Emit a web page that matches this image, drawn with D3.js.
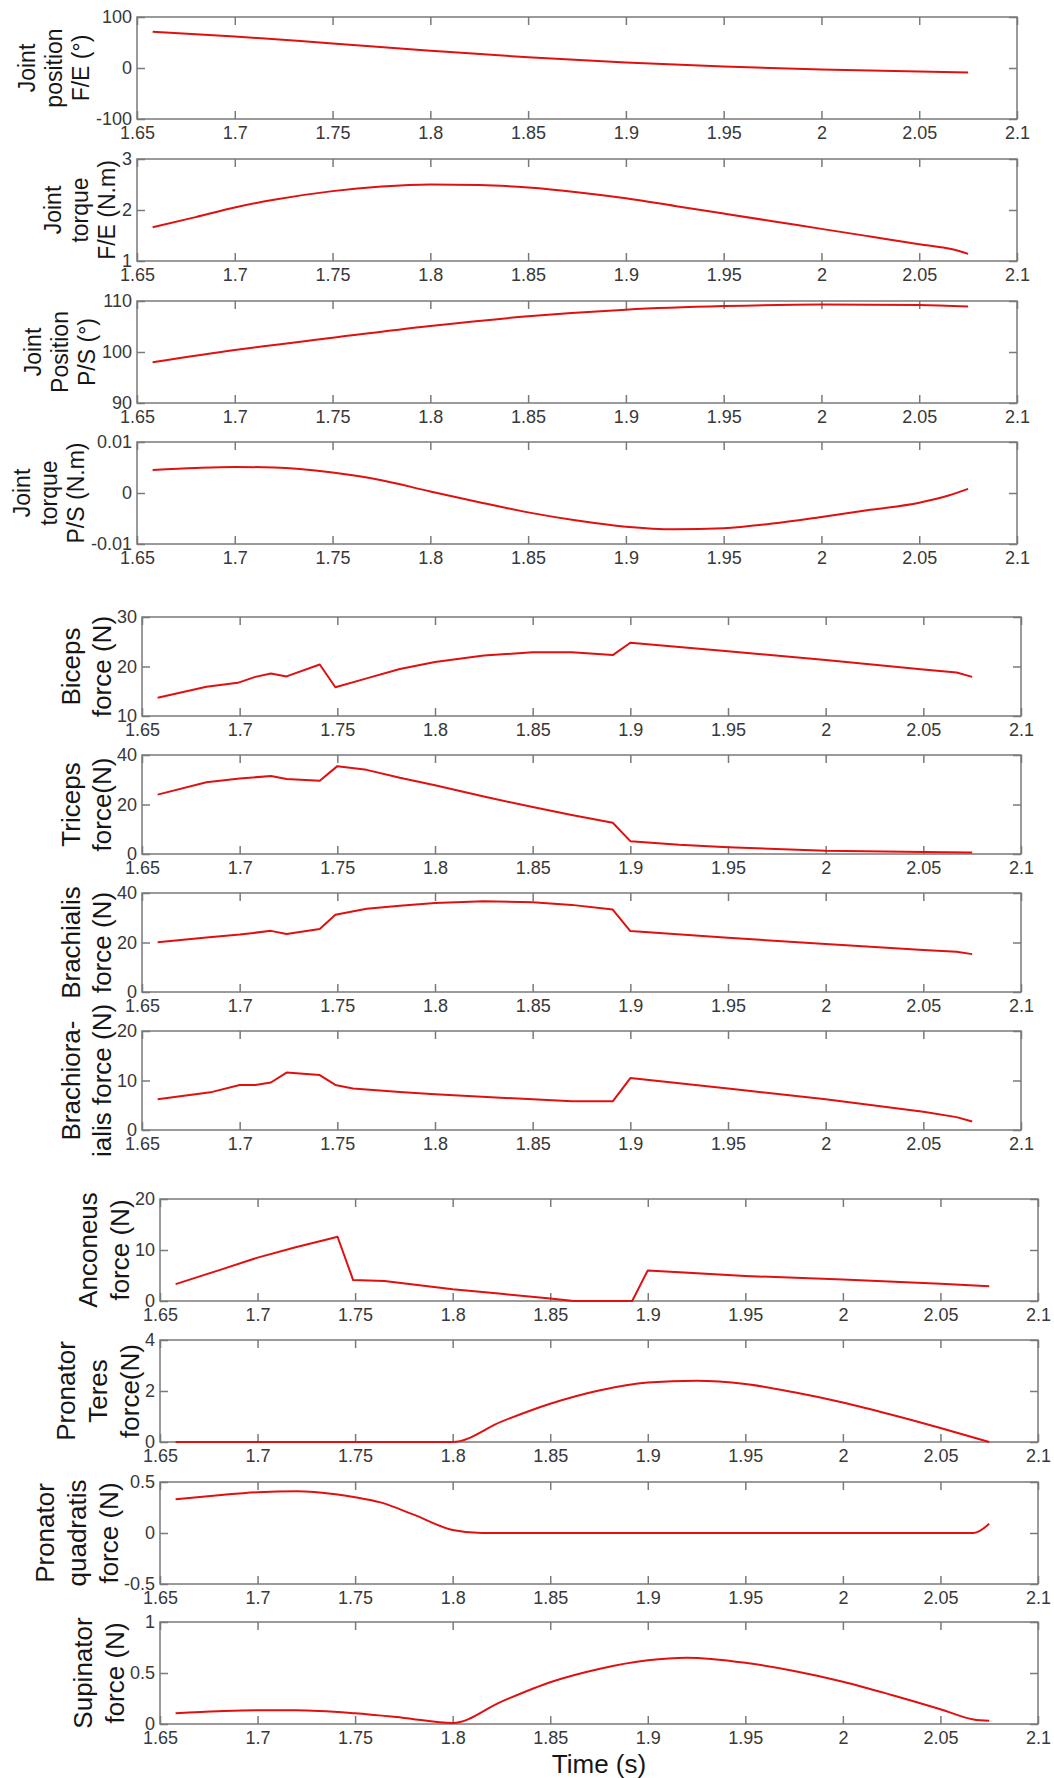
<!DOCTYPE html>
<html>
<head>
<meta charset="utf-8">
<script src="https://cdn.jsdelivr.net/npm/d3@7"></script>
<style>
    body { margin: 0; background: #fff; }
    svg { display: block; font-family: Arial, "Liberation Sans", Helvetica, sans-serif; }
    .frame { fill: none; stroke: #7a7a7a; stroke-width: 1.5; }
    .tick line { stroke: #7a7a7a; stroke-width: 1.5; }
    .tick text { fill: #383838; font-size: 18px; }
    .trace { fill: none; stroke: #e01010; stroke-width: 2; stroke-linejoin: round; }
    .ylab { fill: #161616; }
</style>
</head>
<body>
<div id="fig"></div>
<script>
// x ticks shared by all panels
const xTicks = [1.65, 1.7, 1.75, 1.8, 1.85, 1.9, 1.95, 2, 2.05, 2.1];

// --- joint kinematics / torques
const tPosFE  = [1.658, 1.70, 1.75, 1.80, 1.85, 1.90, 1.95, 2.00, 2.05, 2.075];
const posFE   = [71, 62, 48, 34, 21, 11, 3, -3, -7, -9];
const tTorqFE = [1.658, 1.68, 1.70, 1.72, 1.75, 1.775, 1.80, 1.825, 1.85, 1.875, 1.90, 1.925, 1.95, 1.975, 2.00, 2.025, 2.05, 2.067, 2.075];
const torqFE  = [1.66, 1.86, 2.05, 2.2, 2.37, 2.46, 2.5, 2.49, 2.44, 2.35, 2.23, 2.08, 1.93, 1.78, 1.63, 1.48, 1.33, 1.23, 1.14];
const tPosPS  = [1.658, 1.70, 1.75, 1.80, 1.85, 1.90, 1.95, 2.00, 2.05, 2.075];
const posPS   = [98.0, 100.4, 102.8, 105.1, 107.0, 108.3, 109.0, 109.3, 109.2, 108.9];
const tTorqPS = [1.658, 1.68, 1.70, 1.72, 1.75, 1.775, 1.80, 1.825, 1.85, 1.875, 1.90, 1.925, 1.95, 1.975, 2.00, 2.025, 2.05, 2.065, 2.075];
const torqPS  = [0.0045, 0.0049, 0.0051, 0.0050, 0.0040, 0.0025, 0.0003, -0.0018, -0.0038, -0.0054, -0.0066, -0.0071, -0.0069, -0.0060, -0.0047, -0.0033, -0.0019, -0.0005, 0.0008];

// --- flexor / extensor forces
const tBiceps  = [1.658, 1.683, 1.699, 1.708, 1.716, 1.724, 1.741, 1.749, 1.765, 1.782, 1.80, 1.825, 1.85, 1.87, 1.891, 1.90, 1.95, 2.00, 2.05, 2.067, 2.075];
const biceps   = [13.7, 15.9, 16.7, 17.9, 18.6, 18.0, 20.4, 15.8, 17.6, 19.5, 20.9, 22.2, 22.9, 22.9, 22.3, 24.8, 23.1, 21.3, 19.4, 18.8, 17.9];
const tTriceps = [1.658, 1.683, 1.70, 1.716, 1.724, 1.741, 1.75, 1.765, 1.782, 1.80, 1.825, 1.85, 1.87, 1.891, 1.90, 1.925, 1.95, 2.00, 2.05, 2.075];
const triceps  = [24.0, 29.0, 30.5, 31.5, 30.3, 29.6, 35.5, 34.0, 30.8, 27.8, 23.2, 19.0, 15.8, 12.6, 5.2, 3.7, 2.7, 1.3, 0.8, 0.6];
const tBrach   = [1.658, 1.683, 1.70, 1.716, 1.724, 1.741, 1.749, 1.765, 1.782, 1.80, 1.825, 1.85, 1.87, 1.891, 1.90, 1.95, 2.00, 2.05, 2.067, 2.075];
const brach    = [20.1, 22.0, 23.2, 24.7, 23.4, 25.5, 31.2, 33.6, 34.8, 36.0, 36.7, 36.3, 35.2, 33.3, 24.6, 21.9, 19.4, 17.0, 16.3, 15.3];
const tBrRad   = [1.658, 1.686, 1.70, 1.708, 1.716, 1.724, 1.741, 1.749, 1.758, 1.782, 1.80, 1.85, 1.87, 1.891, 1.90, 1.95, 2.00, 2.05, 2.067, 2.075];
const brRad    = [6.2, 7.7, 9.1, 9.1, 9.6, 11.6, 11.1, 9.1, 8.4, 7.7, 7.2, 6.2, 5.8, 5.8, 10.5, 8.4, 6.2, 3.7, 2.6, 1.7];

// --- anconeus / pronators / supinator
const tAnc = [1.658, 1.68, 1.70, 1.72, 1.735, 1.741, 1.749, 1.765, 1.80, 1.825, 1.85, 1.862, 1.892, 1.90, 1.95, 2.00, 2.05, 2.075];
const anc  = [3.3, 6.0, 8.5, 10.6, 12.0, 12.6, 4.1, 3.9, 2.3, 1.4, 0.5, 0.0, 0.0, 6.0, 4.9, 4.2, 3.4, 2.9];
const tPT  = [1.658, 1.80, 1.825, 1.85, 1.875, 1.90, 1.925, 1.95, 1.975, 2.00, 2.025, 2.05, 2.075];
const pt   = [0, 0, 0.8, 1.5, 2.02, 2.33, 2.4, 2.27, 1.95, 1.55, 1.07, 0.55, 0];
const tPQ  = [1.658, 1.68, 1.70, 1.72, 1.74, 1.75, 1.763, 1.78, 1.80, 1.815, 2.067, 2.075];
const pq   = [0.33, 0.37, 0.40, 0.41, 0.38, 0.35, 0.30, 0.18, 0.03, 0.0, 0.0, 0.09];
const tSup = [1.658, 1.68, 1.70, 1.72, 1.75, 1.775, 1.80, 1.825, 1.85, 1.875, 1.90, 1.92, 1.95, 1.975, 2.00, 2.025, 2.05, 2.067, 2.075];
const sup  = [0.105, 0.125, 0.135, 0.135, 0.105, 0.06, 0.01, 0.22, 0.41, 0.54, 0.625, 0.65, 0.60, 0.52, 0.415, 0.285, 0.145, 0.045, 0.032];

// y ticks (first/last also give the domain)
const yPosFE   = [-100, 0, 100];
const yTorqFE  = [1, 2, 3];
const yPosPS   = [90, 100, 110];
const yTorqPS  = [-0.01, 0, 0.01];
const yBiceps  = [10, 20, 30];
const yTriceps = [0, 20, 40];
const yBrach   = [0, 20, 40];
const yBrRad   = [0, 10, 20];
const yAnc     = [0, 10, 20];
const yPT      = [0, 2, 4];
const yPQ      = [-0.5, 0, 0.5];
const ySup     = [0, 0.5, 1];

const labPosFE   = ["Joint", "position", "F/E (°)"];
const labTorqFE  = ["Joint", "torque", "F/E (N.m)"];
const labPosPS   = ["Joint", "Position", "P/S (°)"];
const labTorqPS  = ["Joint", "torque", "P/S (N.m)"];
const labBiceps  = ["Biceps", "force (N)"];
const labTriceps = ["Triceps", "force(N)"];
const labBrach   = ["Brachialis", "force (N)"];
const labBrRad   = ["Brachiora-", "ialis force (N)"];
const labAnc     = ["Anconeus", "force (N)"];
const labPT      = ["Pronator", "Teres", "force(N)"];
const labPQ      = ["Pronator", "quadratis", "force (N)"];
const labSup     = ["Supinator", "force (N)"];

const xLabel = "Time (s)";

// three stacks of four axes, as in the original figure
const groups = [
    {left: 137, right: 1017, tops: [17, 159, 301, 442],    h: 102, font: 23, lh: 27},
    {left: 142, right: 1021, tops: [617, 755, 893, 1031],  h: 99,  font: 26, lh: 31},
    {left: 160, right: 1038, tops: [1199, 1340, 1482, 1622], h: 102, font: 26, lh: 32},
];

const smooth = d3.curveMonotoneX, sharp = d3.curveLinear;
const zip = (ts, vs) => ts.map((t, i) => ({t, v: vs[i]}));

const panels = [
    {g: 0, data: zip(tPosFE, posFE),   yt: yPosFE,   lab: labPosFE,   curve: smooth},
    {g: 0, data: zip(tTorqFE, torqFE), yt: yTorqFE,  lab: labTorqFE,  curve: smooth},
    {g: 0, data: zip(tPosPS, posPS),   yt: yPosPS,   lab: labPosPS,   curve: smooth},
    {g: 0, data: zip(tTorqPS, torqPS), yt: yTorqPS,  lab: labTorqPS,  curve: smooth},
    {g: 1, data: zip(tBiceps, biceps), yt: yBiceps,  lab: labBiceps,  curve: sharp},
    {g: 1, data: zip(tTriceps, triceps), yt: yTriceps, lab: labTriceps, curve: sharp},
    {g: 1, data: zip(tBrach, brach),   yt: yBrach,   lab: labBrach,   curve: sharp},
    {g: 1, data: zip(tBrRad, brRad),   yt: yBrRad,   lab: labBrRad,   curve: sharp},
    {g: 2, data: zip(tAnc, anc),       yt: yAnc,     lab: labAnc,     curve: sharp},
    {g: 2, data: zip(tPT, pt),         yt: yPT,      lab: labPT,      curve: smooth},
    {g: 2, data: zip(tPQ, pq),         yt: yPQ,      lab: labPQ,      curve: smooth},
    {g: 2, data: zip(tSup, sup),       yt: ySup,     lab: labSup,     curve: smooth},
];

const W = 1054, H = 1778, TICK = 8;
const fmt = d => String(+d.toFixed(4));

const svg = d3.select("#fig").append("svg")
    .attr("width", W)
    .attr("height", H)
    .attr("viewBox", `0 0 ${W} ${H}`);

const counters = [0, 0, 0];

panels.forEach(p => {
    const grp = groups[p.g];
    const top = grp.tops[counters[p.g]++];
    const innerW = grp.right - grp.left, innerH = grp.h;

    const x = d3.scaleLinear().domain([1.65, 2.1]).range([0, innerW]);
    const y = d3.scaleLinear().domain(d3.extent(p.yt)).range([innerH, 0]);

    const g = svg.append("g").attr("transform", `translate(${grp.left},${top})`);

    // MATLAB style: ticks point inwards on all four sides, labels only bottom/left
    g.append("g").attr("transform", `translate(0,${innerH})`)
        .call(d3.axisBottom(x).tickValues(xTicks).tickFormat(fmt).tickSize(-TICK).tickSizeOuter(0).tickPadding(7));
    g.append("g")
        .call(d3.axisTop(x).tickValues(xTicks).tickFormat("").tickSize(-TICK).tickSizeOuter(0));
    const yAx = g.append("g")
        .call(d3.axisLeft(y).tickValues(p.yt).tickFormat(fmt).tickSize(-TICK).tickSizeOuter(0).tickPadding(5));
    g.append("g").attr("transform", `translate(${innerW},0)`)
        .call(d3.axisRight(y).tickValues(p.yt).tickFormat("").tickSize(-TICK).tickSizeOuter(0));
    g.selectAll(".domain").remove();
    g.selectAll(".tick text").attr("font-family", null).attr("font-size", null);

    g.append("rect").attr("class", "frame")
        .attr("width", innerW).attr("height", innerH);

    g.append("path").attr("class", "trace")
        .datum(p.data)
        .attr("d", d3.line().x(d => x(d.t)).y(d => y(d.v)).curve(p.curve));

    // y label sits just left of the widest tick label
    const tw = d3.max(yAx.selectAll(".tick text").nodes(), n => n.getBBox().width);
    const lastX = -tw - 5 - 15;
    const n = p.lab.length;
    p.lab.forEach((line, i) => {
        const cx = lastX - (n - 1 - i) * grp.lh;
        g.append("text").attr("class", "ylab")
            .attr("transform", `translate(${cx},${innerH / 2}) rotate(-90)`)
            .attr("text-anchor", "middle")
            .attr("dominant-baseline", "central")
            .attr("font-size", grp.font)
            .text(line);
    });
});

svg.append("text")
    .attr("x", (groups[2].left + groups[2].right) / 2)
    .attr("y", 1773)
    .attr("text-anchor", "middle")
    .attr("font-size", 26)
    .attr("fill", "#161616")
    .text(xLabel);
</script>
</body>
</html>
